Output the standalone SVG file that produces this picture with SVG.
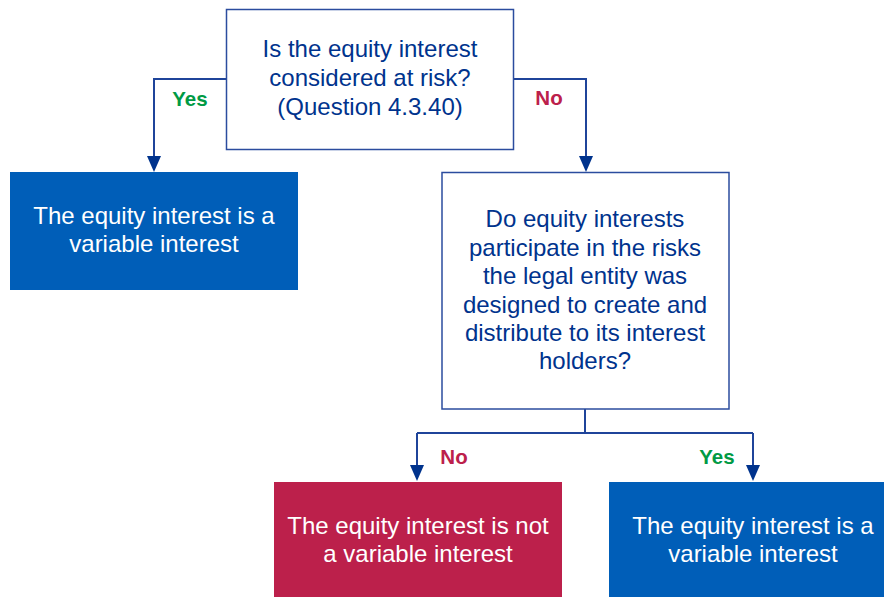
<svg xmlns="http://www.w3.org/2000/svg" width="884" height="597" viewBox="0 0 884 597">
<style>
.q{fill:#fff;stroke:#2B4C9E;stroke-width:1.5}
.qt{font-family:"Liberation Sans",Arial,sans-serif;font-size:24px;fill:#00338D;text-anchor:middle}
.rt{font-family:"Liberation Sans",Arial,sans-serif;font-size:24px;fill:#fff;text-anchor:middle}
.lbl{font-family:"Liberation Sans",Arial,sans-serif;font-size:20.5px;font-weight:bold;text-anchor:middle}
.yes{fill:#009A44}
.no{fill:#BC204B}
.c{fill:none;stroke:#1F449A;stroke-width:2}
.ah{fill:#00338D}
</style>
<g id="connectors">
<path class="c" d="M226,79 H154 V156"/>
<path class="ah" d="M147,156 H161 L154,172 Z"/>
<path class="c" d="M513,79 H586 V156"/>
<path class="ah" d="M579,156 H593 L586,172 Z"/>
<path class="c" d="M585,409 V433 M417,433 H753 M417,433 V465 M753,433 V465"/>
<path class="ah" d="M410,465 H424 L417,481 Z"/>
<path class="ah" d="M746,465 H760 L753,481 Z"/>
<text class="lbl yes" x="190" y="106">Yes</text>
<text class="lbl no" x="549" y="105">No</text>
<text class="lbl no" x="454" y="464">No</text>
<text class="lbl yes" x="717" y="464">Yes</text>
</g>
<g id="q1">
<rect class="q" x="226.5" y="9.5" width="287" height="140"/>
<text class="qt" x="370" y="57">Is the equity interest</text>
<text class="qt" x="370" y="86">considered at risk?</text>
<text class="qt" x="370" y="115">(Question 4.3.40)</text>
</g>
<g id="r1">
<rect x="10" y="172" width="288" height="118" fill="#005EB8"/>
<text class="rt" x="154" y="224">The equity interest is a</text>
<text class="rt" x="154" y="252">variable interest</text>
</g>
<g id="q2">
<rect class="q" x="442" y="172.5" width="287" height="236.5"/>
<text class="qt" x="585" y="227">Do equity interests</text>
<text class="qt" x="585" y="256">participate in the risks</text>
<text class="qt" x="585" y="284">the legal entity was</text>
<text class="qt" x="585" y="313">designed to create and</text>
<text class="qt" x="585" y="341">distribute to its interest</text>
<text class="qt" x="585" y="369">holders?</text>
</g>
<g id="r2">
<rect x="274" y="482" width="288" height="115" fill="#BC204B"/>
<text class="rt" x="418" y="534">The equity interest is not</text>
<text class="rt" x="418" y="562">a variable interest</text>
</g>
<g id="r3">
<rect x="609" y="482" width="288" height="115" fill="#005EB8"/>
<text class="rt" x="753" y="534">The equity interest is a</text>
<text class="rt" x="753" y="562">variable interest</text>
</g>
</svg>
